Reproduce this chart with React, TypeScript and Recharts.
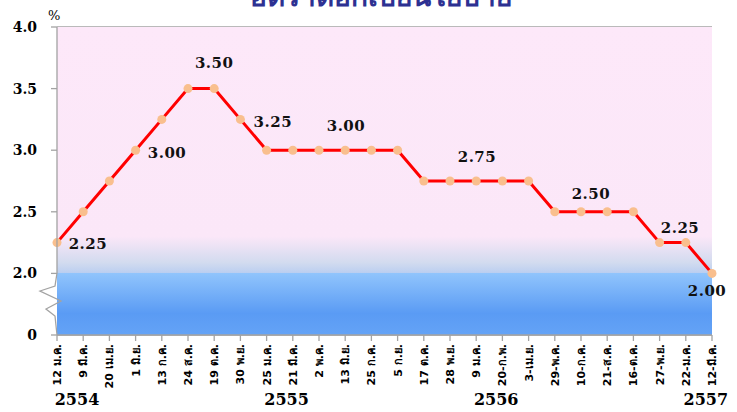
import React from "react";
import { ComposedChart, Line, Scatter, XAxis, YAxis, CartesianGrid, ReferenceArea } from "recharts";

const dateLabels = [
  "12 ม.ค.", "9 มี.ค.", "20 เม.ย.", "1 มิ.ย.", "13 ก.ค.", "24 ส.ค.", "19 ต.ค.", "30 พ.ย.",
  "25 ม.ค.", "21 มี.ค.", "2 พ.ค.", "13 มิ.ย.", "25 ก.ค.", "5 ก.ย.", "17 ต.ค.", "28 พ.ย.",
  "9 ม.ค.", "20-ก.พ.", "3-เม.ย.", "29-พ.ค.", "10-ก.ค.", "21-ส.ค.", "16-ต.ค.", "27-พ.ย.",
  "22-ม.ค.", "12-มี.ค.",
];
const rates = [
  2.25, 2.5, 2.75, 3.0, 3.25, 3.5, 3.5, 3.25, 3.0, 3.0, 3.0, 3.0, 3.0, 3.0, 2.75, 2.75,
  2.75, 2.75, 2.75, 2.5, 2.5, 2.5, 2.5, 2.25, 2.25, 2.0,
];
const years = [
  { start: 0, label: "2554" },
  { start: 8, label: "2555" },
  { start: 16, label: "2556" },
  { start: 24, label: "2557" },
];
// annotation labels placed in data coordinates (index, rate)
const annotations = [
  { i: 1.18, v: 2.244, text: "2.25" },
  { i: 6.0, v: 3.715, text: "3.50" },
  { i: 4.2, v: 2.984, text: "3.00" },
  { i: 8.24, v: 3.236, text: "3.25" },
  { i: 11.03, v: 3.203, text: "3.00" },
  { i: 16.03, v: 2.951, text: "2.75" },
  { i: 20.38, v: 2.65, text: "2.50" },
  { i: 23.78, v: 2.374, text: "2.25" },
  { i: 24.81, v: 1.866, text: "2.00" },
];
const yTicks = [1.5, 2.0, 2.5, 3.0, 3.5, 4.0];
const yTickLabels = ["0", "2.0", "2.5", "3.0", "3.5", "4.0"];
const title = "อัตราดอกเบี้ยนโยบาย";

const data = rates.map((v, i) => ({ i, v }));
const xTicks = rates.map((_, i) => i);

const W = 737;
const H = 412;
const MARGIN = { top: 27, right: 25, bottom: 0, left: 0 };
const Y_AXIS_W = 57;
const X_AXIS_H = 77;
const PLOT_H = H - MARGIN.top - X_AXIS_H;
const GRID = "#a3a3a3";
const NUM_FONT = "'DejaVu Serif', serif";

const XTick = (props: any) => {
  const { x, y, payload } = props;
  const idx = payload.value as number;
  const yr = years.find((d) => d.start === idx);
  return (
    <g>
      <text
        transform={`translate(${x + 4},${y + 1}) rotate(-90)`}
        textAnchor="end"
        fontSize={11}
        fontWeight="bold"
        fontFamily="'DejaVu Sans', sans-serif"
        fill="#000"
      >
        {dateLabels[idx]}
      </text>
      {yr && (
        <text x={x + 20} y={405} textAnchor="middle" fontSize={16} fontWeight="bold" fontFamily={NUM_FONT} fill="#000">
          {yr.label}
        </text>
      )}
    </g>
  );
};

const YTick = (props: any) => {
  const { x, y, payload } = props;
  const k = yTicks.indexOf(payload.value);
  const axisX = Y_AXIS_W + MARGIN.left;
  const els: any[] = [
    <text key="t" x={x} y={y + 5} textAnchor="end" fontSize={14} fontWeight="bold" fontFamily={NUM_FONT} fill="#000">
      {yTickLabels[k]}
    </text>,
  ];
  if (payload.value === 1.5) {
    // left axis line with break squiggle
    const top = y - PLOT_H;
    const b2 = y - 62;
    const d = `M${axisX},${top} L${axisX},${b2} L${axisX - 2},${b2 + 13} L${axisX - 17},${b2 + 18} L${axisX + 4},${b2 + 28} L${axisX - 11},${b2 + 36} L${axisX - 2},${b2 + 43} L${axisX},${y}`;
    els.push(<path key="p" d={d} stroke={GRID} strokeWidth={1.3} fill="none" />);
  }
  return <g>{els}</g>;
};

const AnnotationShape = (props: any) => {
  const { cx, cy, payload } = props;
  return (
    <text x={cx} y={cy + 6} textAnchor="middle" fontSize={15} fontWeight="bold" fontFamily={NUM_FONT} fill="#111" letterSpacing={0.5}>
      {payload.text}
    </text>
  );
};

export default function App() {
  return (
    <div style={{ position: "absolute", left: 0, top: 0, width: W, height: H, background: "#fff", overflow: "hidden" }}>
      <div
        style={{
          position: "absolute",
          left: 0,
          width: W,
          top: -22,
          textAlign: "center",
          fontSize: 28,
          fontWeight: "bold",
          color: "#2d3192",
          fontFamily: "'Noto Sans', sans-serif",
          lineHeight: "34px",
          paddingLeft: 12,
        }}
      >
        {title}
      </div>
      <div style={{ position: "absolute", left: 48, top: 8, fontSize: 13, fontFamily: NUM_FONT, color: "#000" }}>%</div>
      <ComposedChart width={W} height={H} data={data} margin={MARGIN}>
        <defs>
          <linearGradient id="bgGrad" x1="0" y1="0" x2="0" y2="1">
            <stop offset="0" stopColor="#fde8f9" />
            <stop offset="0.68" stopColor="#fbe7f8" />
            <stop offset="0.765" stopColor="#d2dbef" />
            <stop offset="0.797" stopColor="#bccff0" />
            <stop offset="0.80" stopColor="#90c4fc" />
            <stop offset="0.93" stopColor="#5a9bf4" />
            <stop offset="1" stopColor="#64a3f6" />
          </linearGradient>
        </defs>
        <ReferenceArea x1={0} x2={25} y1={1.5} y2={4} fill="url(#bgGrad)" fillOpacity={1} stroke="none" ifOverflow="visible" />
        <CartesianGrid vertical={false} stroke={GRID} strokeWidth={1.5} />
        <XAxis
          type="number"
          dataKey="i"
          domain={[0, 25]}
          ticks={xTicks}
          interval={0}
          height={X_AXIS_H}
          axisLine={{ stroke: GRID, strokeWidth: 1.5 }}
          tickLine={{ stroke: GRID, strokeWidth: 1.3 }}
          tickSize={6}
          tickMargin={2}
          tick={<XTick />}
        />
        <YAxis
          type="number"
          domain={[1.5, 4]}
          ticks={yTicks}
          interval={0}
          width={Y_AXIS_W}
          axisLine={false}
          tickLine={{ stroke: GRID, strokeWidth: 1.3 }}
          tickSize={6}
          tickMargin={14}
          tick={<YTick />}
        />
        <Line
          dataKey="v"
          stroke="#ff0000"
          strokeWidth={3}
          dot={{ r: 4.5, fill: "#f9bf8e", stroke: "none" }}
          isAnimationActive={false}
        />
        <Scatter data={annotations} dataKey="v" shape={<AnnotationShape />} isAnimationActive={false} />
      </ComposedChart>
    </div>
  );
}
